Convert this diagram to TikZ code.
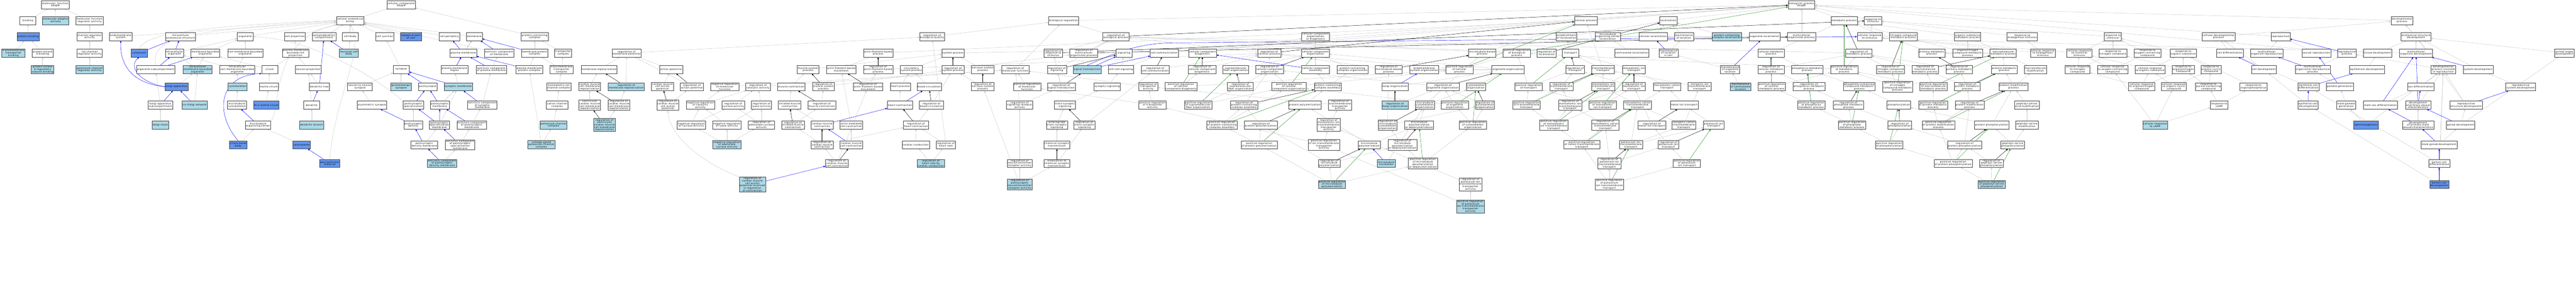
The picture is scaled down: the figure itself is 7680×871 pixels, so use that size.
\documentclass[tikz,border=0pt]{standalone}
\usepackage{fontspec}
\usetikzlibrary{arrows.meta}
\newfontfamily\gvfont[LetterSpace=10]{DejaVu Sans}
\definecolor{gvlb}{HTML}{ADD8E6}
\definecolor{gvcb}{HTML}{6495ED}
\definecolor{gvgrey}{HTML}{C8C8C8}
\definecolor{gvgreen}{HTML}{228B22}
\pgfdeclarelayer{back}
\pgfdeclarelayer{bg}
\pgfsetlayers{back,bg,main}
\tikzset{
  box/.style={draw=black!75, line width=0.8pt, rectangle, align=center, inner xsep=2pt, inner ysep=1.5pt,
    minimum height=24pt, minimum width=48pt, font={\gvfont\fontsize{7}{7.2}\selectfont}},
  n/.style={box, fill=white},
  lb/.style={box, fill=gvlb},
  cb/.style={box, fill=gvcb},
  edge/.style={line width=0.7pt, -{Triangle[length=5.5pt,width=4.5pt]}},
  eg/.style={edge, draw=gvgrey},
  eb/.style={edge, draw=blue},
  ek/.style={edge, draw=black},
  en/.style={edge, draw=gvgreen}
}
\begin{document}
\begin{tikzpicture}[x=1pt,y=-1pt]
\useasboundingbox (0,0) rectangle (7680,871);
\begin{pgfonlayer}{back}
\fill[white] (0,0) rectangle (7680,871);
\end{pgfonlayer}
% ---------------- molecular function
\node[n] (mf) at (165,14) {molecular\_function\\Akap9};
\node[n] (binding) at (83,61.5) {binding};
\node[lb] (adaptor) at (166,61.5) {molecular adaptor\\activity};
\node[n] (mfreg) at (267,61.5) {molecular function\\regulator activity};
\node[cb] (pbind) at (84,109.5) {protein binding};
\node[n] (chreg) at (267,109.5) {channel regulator\\activity};
\node[lb] (tmtb) at (40,158.5) {transmembrane\\transporter\\binding};
\node[n] (pkab) at (127,158.5) {protein kinase\\A binding};
\node[n] (ionchreg) at (267,158.5) {ion channel\\regulator activity};
\node[lb] (pkars) at (127,207.5) {protein kinase\\A regulatory\\subunit binding};
\node[lb] (potchreg) at (267,207.5) {potassium channel\\regulator activity};
% ---------------- cellular component
\node[n] (cc) at (1196,14) {cellular\_component\\Akap9};
\node[n] (cae) at (1044,61.5) {cellular anatomical\\entity};
\node[n] (endomem) at (360,109.5) {endomembrane\\system};
\node[n] (ias) at (538,109.5) {intracellular\\anatomical structure};
\node[n] (organelle) at (731,109.5) {organelle};
\node[n] (cellproj) at (879,109.5) {cell projection};
\node[n] (somato) at (966,109.5) {somatodendritic\\compartment};
\node[n] (cellbody) at (1044,109.5) {cell body};
\node[n] (celljunc) at (1147,109.5) {cell junction};
\node[cb] (subapical) at (1225,109.5) {subapical part\\of cell};
\node[n] (cellper) at (1340,109.5) {cell periphery};
\node[n] (membrane) at (1414,109.5) {membrane};
\node[n] (pcc) at (1594,109.5) {protein-containing\\complex};
\node[cb] (cytoplasm) at (415,158.5) {cytoplasm};
\node[n] (intorg) at (520,158.5) {intracellular\\organelle};
\node[n] (mbo) at (612,158.5) {membrane-bounded\\organelle};
\node[n] (nmbo) at (731,158.5) {non-membrane-bounded\\organelle};
\node[n] (pmbcp) at (881,158.5) {plasma membrane\\bounded cell\\projection};
\node[lb] (neuronalcb) at (1040,158.5) {neuronal cell\\body};
\node[n] (pm) at (1381,158.5) {plasma membrane};
\node[n] (extmem) at (1488,158.5) {extrinsic component\\of membrane};
\node[n] (mpc) at (1594,158.5) {membrane protein\\complex};
\node[n] (transpcomp) at (1679,158.5) {transporter\\complex};
\node[n] (orgsub) at (464,207.5) {organelle subcompartment};
\node[lb] (imbo) at (589,207.5) {intracellular\\membrane-bounded\\organelle};
\node[n] (inmbo) at (707,207.5) {intracellular\\non-membrane-bounded\\organelle};
\node[n] (cilium) at (804,207.5) {cilium};
\node[n] (neuronproj) at (919,207.5) {neuron projection};
\node[n] (synapse) at (1196,207.5) {synapse};
\node[n] (pmregion) at (1355,207.5) {plasma membrane\\region};
\node[n] (extpm) at (1465,207.5) {extrinsic component\\of plasma membrane};
\node[n] (pmpc) at (1578,207.5) {plasma membrane\\protein complex};
\node[n] (tmtc) at (1674,207.5) {transmembrane\\transporter\\complex};
\node[cb] (golgi) at (526,259) {Golgi apparatus};
\node[lb] (cytoskeleton) at (708,259) {cytoskeleton};
\node[n] (motilecilium) at (801,259) {motile cilium};
\node[n] (dendtree) at (952,259) {dendritic tree};
\node[n] (nnsyn) at (1073,259) {neuron to neuron\\synapse};
\node[lb] (glutsyn) at (1196,259) {glutamatergic\\synapse};
\node[n] (postsynapse) at (1275,259) {postsynapse};
\node[lb] (synmem) at (1366,259) {synaptic membrane};
\node[n] (monoionch) at (1666,259) {monoatomic ion\\channel complex};
\node[n] (golgisub) at (478,314) {Golgi apparatus\\subcompartment};
\node[lb] (cisgolgi) at (580,314) {cis-Golgi network};
\node[n] (mtcyto) at (706,314) {microtubule\\cytoskeleton};
\node[cb] (ninetwo) at (794,314) {9+2 motile cilium};
\node[n] (dendrite) at (929,314) {dendrite};
\node[n] (asymsyn) at (1109,314) {asymmetric synapse};
\node[n] (pss) at (1232,314) {postsynaptic\\specialization};
\node[n] (postsynmem) at (1311,314) {postsynaptic\\membrane};
\node[n] (extsynmem) at (1438,314) {extrinsic component\\of synaptic\\membrane};
\node[n] (cationch) at (1661,314) {cation channel\\complex};
\node[lb] (golgistack) at (478,373.5) {Golgi stack};
\node[n] (mtoc) at (769,373.5) {microtubule\\organizing center};
\node[lb] (dendbranch) at (929,373.5) {dendritic branch};
\node[n] (psd) at (1232,373.5) {postsynaptic\\density};
\node[n] (pssm) at (1310,373.5) {postsynaptic\\specialization\\membrane};
\node[n] (extpostsynmem) at (1406,373.5) {extrinsic component\\of postsynaptic\\membrane};
\node[lb] (potchcomp) at (1650,373.5) {potassium channel\\complex};
\node[cb] (ciliarybb) at (710,432.5) {ciliary basal\\body};
\node[cb] (centrosome) at (899,432.5) {centrosome};
\node[n] (psdm) at (1265,432.5) {postsynaptic\\density membrane};
\node[n] (extpssm) at (1372,432.5) {extrinsic component\\of postsynaptic\\specialization\\membrane};
\node[lb] (vgpcc) at (1614,432.5) {voltage-gated\\potassium channel\\complex};
\node[cb] (pericentriolar) at (983,488) {pericentriolar\\material};
\node[lb] (extpsdm) at (1318,488) {extrinsic component\\of postsynaptic\\density membrane};
% ---------------- biological process: membrane / muscle
\node[n] (regmempot) at (1868,158.5) {regulation of\\membrane potential};
\node[n] (memrepol) at (1786,207.5) {membrane repolarization};
\node[n] (cmcmr) at (1758,259) {cardiac muscle\\cell membrane\\repolarization};
\node[lb] (regmemrepol) at (1867,259) {regulation of\\membrane repolarization};
\node[n] (vcmcmr) at (1758,314) {ventricular\\cardiac muscle\\cell membrane\\repolarization};
\node[n] (regcmcmr) at (1845,314) {regulation of\\cardiac muscle\\cell membrane\\repolarization};
\node[lb] (regvcmcmr) at (1802,373.5) {regulation of\\ventricular\\cardiac muscle\\cell membrane\\repolarization};
\node[n] (actpot) at (2001,207.5) {action potential};
\node[n] (muscsys) at (2409,207.5) {muscle system\\process};
\node[n] (aflmove) at (2508,207.5) {actin filament-based\\movement};
\node[n] (cmcap) at (1975,259) {cardiac muscle\\cell action\\potential};
\node[n] (regactpot) at (2063,259) {regulation of\\action potential};
\node[n] (negregmf) at (2161,259) {negative regulation\\of molecular\\function};
\node[n] (regcat) at (2260,259) {regulation of\\catalytic activity};
\node[n] (muscontr) at (2359,259) {muscle contraction};
\node[n] (regmuscsys) at (2455,259) {regulation of\\muscle system\\process};
\node[n] (regaflmove) at (2588,259) {regulation of\\actin filament-based\\movement};
\node[n] (regcmcap) at (1991,314) {regulation of\\cardiac muscle\\cell action\\potential};
\node[n] (negregcat) at (2088,314) {negative regulation\\of catalytic\\activity};
\node[n] (regcyclase) at (2186,314) {regulation of\\cyclase activity};
\node[n] (reglyase) at (2270,314) {regulation of\\lyase activity};
\node[n] (stmusc) at (2354,314) {striated muscle\\contraction};
\node[n] (regmusccontr) at (2450,314) {regulation of\\muscle contraction};
\node[n] (negregcyclase) at (2061,373.5) {negative regulation\\of cyclase activity};
\node[n] (negreglyase) at (2167,373.5) {negative regulation\\of lyase activity};
\node[n] (regadcyc) at (2270,373.5) {regulation of\\adenylate cyclase\\activity};
\node[n] (regstmusc) at (2364,373.5) {regulation of\\striated muscle\\contraction};
\node[n] (cardmusc) at (2451,373.5) {cardiac muscle\\contraction};
\node[n] (actinmcc) at (2538,373.5) {actin-mediated\\cell contraction};
\node[lb] (negregadcyc) at (2167,432.5) {negative regulation\\of adenylate\\cyclase activity};
\node[n] (regcardmusc) at (2451,432.5) {regulation of\\cardiac muscle\\contraction};
\node[n] (cmcc) at (2538,432.5) {cardiac muscle\\cell contraction};
\node[n] (regcmcc) at (2495,488) {regulation of\\cardiac muscle\\cell contraction};
\node[lb] (regcmapcontr) at (2243,551) {regulation of\\cardiac muscle\\cell action\\potential involved\\in regulation\\of contraction};
% ---------------- system / signalling
\node[n] (biolreg) at (3171,61.5) {biological regulation};
\node[n] (regbq) at (2779,109.5) {regulation of\\biological quality};
\node[n] (afproc) at (2618,158.5) {actin filament-based\\process};
\node[n] (sysproc) at (2841,158.5) {system process};
\node[n] (regresp) at (3140,158.5) {regulation of\\response to\\stimulus};
\node[n] (regmop) at (3231,158.5) {regulation of\\multicellular\\organismal process};
\node[n] (regafproc) at (2618,207.5) {regulation of\\actin filament-based\\process};
\node[n] (circsys) at (2717,207.5) {circulatory\\system process};
\node[n] (regsysproc) at (2841,207.5) {regulation of\\system process};
\node[n] (nsp) at (2930,207.5) {nervous system\\process};
\node[n] (regmf) at (3027,207.5) {regulation of\\molecular function};
\node[n] (regsig) at (3151,207.5) {regulation of\\signaling};
\node[lb] (sigtrans) at (3241,207.5) {signal transduction};
\node[n] (heartproc) at (2684,259) {heart process};
\node[n] (bloodcirc) at (2770,259) {blood circulation};
\node[n] (regnsp) at (2930,259) {regulation of\\nervous system\\process};
\node[n] (posregmf) at (3062,259) {positive regulation\\of molecular\\function};
\node[n] (regsigtrans) at (3164,259) {regulation of\\signal transduction};
\node[n] (heartcontr) at (2683,314) {heart contraction};
\node[n] (regbloodcirc) at (2777,314) {regulation of\\blood circulation};
\node[n] (regsigrec) at (3040,314) {regulation of\\signaling receptor\\activity};
\node[n] (transsyn) at (3175,314) {trans-synaptic\\signaling};
\node[n] (regheartcontr) at (2731,373.5) {regulation of\\heart contraction};
\node[n] (antero) at (3151,373.5) {anterograde\\trans-synaptic\\signaling};
\node[n] (regtranssyn) at (3233,373.5) {regulation of\\trans-synaptic\\signaling};
\node[n] (cardcond) at (2730,432.5) {cardiac conduction};
\node[n] (regheartrate) at (2820,432.5) {regulation of\\heart rate};
\node[n] (chemsyn) at (3151,432.5) {chemical synaptic\\transmission};
\node[lb] (regHRcc) at (2775,488) {regulation of\\heart rate by\\cardiac conduction};
\node[n] (regntr) at (3040,488) {regulation of\\neurotransmitter\\receptor activity};
\node[n] (modchem) at (3151,488) {modulation of\\chemical synaptic\\transmission};
\node[lb] (regpsntr) at (3040,551) {regulation of\\postsynaptic\\neurotransmitter\\receptor activity};
% ---------------- regulation of biological process block
\node[n] (regbp) at (3327,109.5) {regulation of\\biological process};
\node[n] (signaling) at (3351,158.5) {signaling};
\node[n] (cellcomm) at (3471,158.5) {cell communication};
\node[n] (ccbiogen) at (3585,158.5) {cellular component\\biogenesis};
\node[n] (regcellproc) at (3784,158.5) {regulation of\\cellular process};
\node[n] (cellcellsig) at (3342,207.5) {cell-cell signaling};
\node[n] (regcellcomm) at (3444,207.5) {regulation of\\cell communication};
\node[n] (regccbiogen) at (3584,207.5) {regulation of\\cellular component\\biogenesis};
\node[n] (smfo) at (3684,207.5) {supramolecular\\fiber organization};
\node[n] (regccorg) at (3785,207.5) {regulation of\\cellular component\\organization};
\node[n] (synsig) at (3301,259) {synaptic signaling};
\node[n] (regtransact) at (3423,259) {regulation of\\transporter\\activity};
\node[n] (posregccbiogen) at (3521,259) {positive regulation\\of cellular\\component biogenesis};
\node[n] (regsmfo) at (3698,259) {regulation of\\supramolecular\\fiber organization};
\node[n] (posregccorg) at (3843,259) {positive regulation\\of cellular\\component organization};
\node[n] (posregtransact) at (3436,314) {positive regulation\\of transporter\\activity};
\node[n] (posregsmfo) at (3572,314) {positive regulation\\of supramolecular\\fiber organization};
\node[n] (regpcca) at (3709,314) {regulation of\\protein-containing\\complex assembly};
\node[n] (protpol) at (3890,314) {protein polymerization};
\node[n] (posregpcca) at (3643,373.5) {positive regulation\\of protein-containing\\complex assembly};
\node[n] (regprotpol) at (3759,373.5) {regulation of\\protein polymerization};
\node[n] (posregprotpol) at (3754,432.5) {positive regulation\\of protein polymerization};
% ---------------- cellular component organization
\node[n] (ccob) at (3922,109.5) {cellular component\\organization\\or biogenesis};
\node[n] (ccorg) at (3922,158.5) {cellular component\\organization};
\node[n] (mtbp) at (4419,158.5) {microtubule-based\\process};
\node[n] (posregbp) at (4522,158.5) {positive regulation\\of biological\\process};
\node[n] (ccassembly) at (3922,207.5) {cellular component\\assembly};
\node[n] (pcco) at (4032,207.5) {protein-containing\\complex organization};
\node[n] (regmtbp) at (4140,207.5) {regulation of\\microtubule-based\\process};
\node[n] (endosysorg) at (4246,207.5) {endomembrane\\system organization};
\node[n] (posregcellproc) at (4351,207.5) {positive regulation\\of cellular\\process};
\node[n] (orgorg) at (4496,207.5) {organelle organization};
\node[n] (pcca) at (3958,259) {protein-containing\\complex assembly};
\node[n] (golgiorg) at (4159,259) {Golgi organization};
\node[n] (regorgorg) at (4302,259) {regulation of\\organelle organization};
\node[n] (cytoorg) at (4400,259) {cytoskeleton\\organization};
\node[n] (regtmtact) at (3995,314) {regulation of\\transmembrane\\transporter\\activity};
\node[lb] (reggolgiorg) at (4159,314) {regulation of\\Golgi organization};
\node[n] (mtcytoorg) at (4248,314) {microtubule\\cytoskeleton\\organization};
\node[n] (posregorgorg) at (4337,314) {positive regulation\\of organelle\\organization};
\node[n] (regcytoorg) at (4427,314) {regulation of\\cytoskeleton\\organization};
\node[n] (regmonoiontmact) at (3961,373.5) {regulation of\\monoatomic ion\\transmembrane\\transporter\\activity};
\node[n] (regmtcytoorg) at (4137,373.5) {regulation of\\microtubule\\cytoskeleton\\organization};
\node[n] (mtpd) at (4231,373.5) {microtubule\\polymerization\\or depolymerization};
\node[n] (posregcytoorg) at (4391,373.5) {positive regulation\\of cytoskeleton\\organization};
\node[n] (posregiontmact) at (3947,432.5) {positive regulation\\of ion transmembrane\\transporter\\activity};
\node[n] (mtpol) at (4082,432.5) {microtubule\\polymerization};
\node[n] (regmtpd) at (4181,432.5) {regulation of\\microtubule\\polymerization\\or depolymerization};
\node[n] (regmtpol) at (3963,488) {regulation of\\microtubule\\polymerization};
\node[lb] (mtnuc) at (4133,488) {microtubule\\nucleation};
\node[n] (posregmtpd) at (4242,488) {positive regulation\\of microtubule\\polymerization\\or depolymerization};
\node[n] (regKtmact) at (4384,551) {regulation of\\potassium ion\\transmembrane\\transporter\\activity};
\node[lb] (posregmtpol) at (3971,551) {positive regulation\\of microtubule\\polymerization};
\node[lb] (posregKtmact) at (4384,617) {positive regulation\\of potassium\\ion transmembrane\\transporter\\activity};
% ---------------- localization / transport
\node[n] (cellproc) at (4728,61.5) {cellular process};
\node[n] (localization) at (4974,61.5) {localization};
\node[n] (estloc) at (4670,109.5) {establishment\\of localization};
\node[n] (mtocloc) at (4793,109.5) {microtubule\\organizing center\\localization};
\node[n] (cellloc) at (4928,109.5) {cellular localization};
\node[n] (maintloc) at (5020,109.5) {maintenance\\of location};
\node[lb] (pccloc) at (5148,109.5) {protein-containing\\complex localization};
\node[n] (regloc) at (4611,158.5) {regulation of\\localization};
\node[n] (transport) at (4682,158.5) {transport};
\node[n] (centloc) at (4865,158.5) {centrosome localization};
\node[n] (maintloccell) at (4974,158.5) {maintenance\\of location\\in cell};
\node[n] (regtransport) at (4696,207.5) {regulation of\\transport};
\node[n] (tmtransport) at (4779,207.5) {transmembrane\\transport};
\node[n] (monoiontrans) at (4871,207.5) {monoatomic ion\\transport};
\node[n] (posregtransport) at (4557,259) {positive regulation\\of transport};
\node[n] (regtmtrans) at (4655,259) {regulation of\\transmembrane\\transport};
\node[n] (monoiontmtrans) at (4780,259) {monoatomic ion\\transmembrane\\transport};
\node[n] (regmonoiontrans) at (4871,259) {regulation of\\monoatomic ion\\transport};
\node[n] (monocattrans) at (4970,259) {monoatomic cation\\transport};
\node[n] (inoriontm) at (5067,259) {inorganic ion\\transmembrane\\transport};
\node[n] (posregtmtrans) at (4551,314) {positive regulation\\of transmembrane\\transport};
\node[n] (regmonoiontm) at (4681,314) {regulation of\\monoatomic ion\\transmembrane\\transport};
\node[n] (posregmonoiontrans) at (4778,314) {positive regulation\\of monoatomic\\ion transport};
\node[n] (monocattm) at (4882,314) {monoatomic cation\\transmembrane\\transport};
\node[n] (metaliontrans) at (5021,314) {metal ion transport};
\node[n] (posregmonoiontm) at (4632,373.5) {positive regulation\\of monoatomic\\ion transmembrane\\transport};
\node[n] (regmonocattm) at (4786,373.5) {regulation of\\monoatomic cation\\transmembrane\\transport};
\node[n] (regmetaliontrans) at (4925,373.5) {regulation of\\metal ion transport};
\node[n] (inorcattm) at (5020,373.5) {inorganic cation\\transmembrane\\transport};
\node[n] (Ktrans) at (5109,373.5) {potassium ion\\transport};
\node[n] (posregcattm) at (4716,432.5) {positive regulation\\of cation transmembrane\\transport};
\node[n] (Ktm) at (4862,432.5) {potassium ion\\transmembrane\\transport};
\node[n] (regKtrans) at (4974,432.5) {regulation of\\potassium ion\\transport};
\node[n] (regKtm) at (4798,488) {regulation of\\potassium ion\\transmembrane\\transport};
\node[n] (posregKtrans) at (5029,488) {positive regulation\\of potassium\\ion transport};
\node[n] (posregKtm) at (4798,551) {positive regulation\\of potassium\\ion transmembrane\\transport};
% ---------------- metabolism
\node[n] (bp) at (5371,14) {biological\_process\\Akap9};
\node[n] (metproc) at (5498,61.5) {metabolic process};
\node[n] (respstim) at (5584,61.5) {response to\\stimulus};
\node[n] (orgloc) at (5261,109.5) {organelle localization};
\node[n] (mop) at (5371,109.5) {multicellular\\organismal process};
\node[n] (cellrespstim) at (5574,109.5) {cellular response\\to stimulus};
\node[n] (ncmp) at (5674,109.5) {nitrogen compound\\metabolic process};
\node[n] (cellmetproc) at (5280,158.5) {cellular metabolic\\process};
\node[n] (regmetproc) at (5542,158.5) {regulation of\\metabolic process};
\node[n] (primmet) at (5759,158.5) {primary metabolic\\process};
\node[n] (maintorgloc) at (5158,207.5) {maintenance\\of organelle\\location};
\node[n] (regcellmet) at (5280,207.5) {regulation of\\cellular metabolic\\process};
\node[n] (phosmet) at (5388,207.5) {phosphorus metabolic\\process};
\node[n] (posregmet) at (5498,207.5) {positive regulation\\of metabolic\\process};
\node[n] (regncmp) at (5636,207.5) {regulation of\\nitrogen compound\\metabolic process};
\node[n] (regmacromet) at (5739,207.5) {regulation of\\macromolecule\\metabolic process};
\node[lb] (maintcentloc) at (5189,259) {maintenance\\of centrosome\\location};
\node[n] (posregcellmet) at (5282,259) {positive regulation\\of cellular\\metabolic process};
\node[n] (regphosmet) at (5393,259) {regulation of\\phosphorus metabolic\\process};
\node[n] (phoscmp) at (5543,259) {phosphate-containing\\compound metabolic\\process};
\node[n] (posregncmp) at (5657,259) {positive regulation\\of nitrogen\\compound metabolic\\process};
\node[n] (posregmacromet) at (5764,259) {positive regulation\\of macromolecule\\metabolic process};
\node[n] (posregphosmet) at (5400,314) {positive regulation\\of phosphorus\\metabolic process};
\node[n] (regphosphatemet) at (5511,314) {regulation of\\phosphate metabolic\\process};
\node[n] (phosphorylation) at (5661,314) {phosphorylation};
\node[n] (posregprotmet) at (5763,314) {positive regulation\\of protein metabolic\\process};
\node[n] (posregphosphatemet) at (5521,373.5) {positive regulation\\of phosphate\\metabolic process};
\node[n] (regphosphorylation) at (5664,373.5) {regulation of\\phosphorylation};
\node[n] (posregprotmod) at (5779,373.5) {positive regulation\\of protein modification\\process};
\node[n] (posregphosphorylation) at (5632,432.5) {positive regulation\\of phosphorylation};
\node[n] (osmp) at (5866,109.5) {organic substance\\metabolic process};
\node[n] (respendo) at (6029,109.5) {response to\\endogenous stimulus};
\node[n] (respchem) at (6299,109.5) {response to\\chemical};
\node[n] (orgnitmp) at (5866,158.5) {organonitrogen\\compound metabolic\\process};
\node[n] (macromet) at (5972,158.5) {macromolecule\\metabolic process};
\node[n] (cellrespendo) at (6090,158.5) {cellular response\\to endogenous\\stimulus};
\node[n] (cellrespchem) at (6199,158.5) {cellular response\\to chemical\\stimulus};
\node[n] (respnit) at (6299,158.5) {response to\\nitrogen compound};
\node[n] (respoxy) at (6402,158.5) {response to\\oxygen-containing\\compound};
\node[n] (regprimmet) at (5841,207.5) {regulation of\\primary metabolic\\process};
\node[n] (protmet) at (5975,207.5) {protein metabolic\\process};
\node[n] (macromod) at (6068,207.5) {macromolecule\\modification};
\node[n] (cellrespnit) at (6194,207.5) {cellular response\\to nitrogen\\compound};
\node[n] (cellrespoxy) at (6298,207.5) {cellular response\\to oxygen-containing\\compound};
\node[n] (cellresporg) at (6410,207.5) {cellular response\\to organic substance};
\node[n] (regprotmet) at (5865,259) {regulation of\\protein metabolic\\process};
\node[n] (protmod) at (6003,259) {protein modification\\process};
\node[n] (cellresporgnit) at (6385,259) {cellular response\\to organonitrogen\\compound};
\node[n] (regprotmod) at (5872,314) {regulation of\\protein modification\\process};
\node[n] (peptaa) at (6043,314) {peptidyl-amino\\acid modification};
\node[n] (protphos) at (5938,373.5) {protein phosphorylation};
\node[n] (peptser) at (6043,373.5) {peptidyl-serine\\modification};
\node[lb] (cellrespcAMP) at (6425,373.5) {cellular response\\to cAMP};
\node[n] (regprotphos) at (5857,432.5) {regulation of\\protein phosphorylation};
\node[n] (peptserphos) at (6000,432.5) {peptidyl-serine\\phosphorylation};
\node[n] (posregprotphos) at (5823,488) {positive regulation\\of protein phosphorylation};
\node[n] (regpeptserphos) at (5937,488) {regulation of\\peptidyl-serine\\phosphorylation};
\node[lb] (posregpeptserphos) at (5938,551) {positive regulation\\of peptidyl-serine\\phosphorylation};
% ---------------- response / development
\node[n] (celldevproc) at (6614,109.5) {cellular developmental\\process};
\node[n] (reproduction) at (6799,109.5) {reproduction};
\node[n] (resporg) at (6509,158.5) {response to\\organic substance};
\node[n] (celldiff) at (6648,158.5) {cell differentiation};
\node[n] (mcorgrepro) at (6758,158.5) {multicellular\\organism reproduction};
\node[n] (sexrepro) at (6906,158.5) {sexual reproduction};
\node[n] (reproproc) at (6997,158.5) {reproductive\\process};
\node[n] (resporgnit) at (6509,207.5) {response to\\organonitrogen\\compound};
\node[n] (resporgcyc) at (6592,207.5) {response to\\organic cyclic\\compound};
\node[n] (celldev) at (6749,207.5) {cell development};
\node[n] (mcorp) at (6895,207.5) {multicellular\\organismal reproductive\\process};
\node[n] (epidev) at (7057,207.5) {epithelium development};
\node[n] (cellresporgcyc) at (6481,259) {cellular response\\to organic cyclic\\compound};
\node[n] (resppurine) at (6584,259) {response to\\purine-containing\\compound};
\node[n] (respop) at (6718,259) {response to\\organophosphorus};
\node[n] (epicelldiff) at (6882,259) {epithelial cell\\differentiation};
\node[n] (gametegen) at (6976,259) {gamete generation};
\node[n] (respcAMP) at (6616,314) {response to\\cAMP};
\node[n] (epicelldev) at (6881,314) {epithelial cell\\development};
\node[n] (malegametegen) at (6995,314) {male gamete\\generation};
\node[cb] (spermatogenesis) at (7054,373.5) {spermatogenesis};
\node[n] (devproc) at (7161,61.5) {developmental\\process};
\node[n] (asd) at (7203,109.5) {anatomical structure\\development};
\node[n] (tissuedev) at (7088,158.5) {tissue development};
\node[n] (mcod) at (7203,158.5) {multicellular\\organism development};
\node[n] (animalorgan) at (7645,158.5) {animal organ\\development};
\node[n] (dpir) at (7284,207.5) {developmental\\process involved\\in reproduction};
\node[n] (sysdev) at (7388,207.5) {system development};
\node[n] (sexdiff) at (7217,259) {sex differentiation};
\node[n] (reprosysdev) at (7515,259) {reproductive\\system development};
\node[n] (malesexdiff) at (7097,314) {male sex differentiation};
\node[n] (dpsc) at (7209,314) {development\\of primary sexual\\characteristics};
\node[n] (reprostructdev) at (7352,314) {reproductive\\structure development};
\node[n] (dpmsc) at (7209,373.5) {development\\of primary male\\sexual characteristics};
\node[n] (gonaddev) at (7336,373.5) {gonad development};
\node[n] (malegonaddev) at (7272,432.5) {male gonad development};
\node[n] (sertolidiff) at (7272,488) {Sertoli cell\\differentiation};
\node[cb] (sertolidev) at (7272,551) {Sertoli cell\\development};
% ================= edges
\begin{pgfonlayer}{bg}
% curved connectors
\draw[eb] (golgi.west) .. controls (400,250) and (357,200) .. (endomem.south);
\draw[eb] (golgi.west) .. controls (420,248) and (380,200) .. (cytoplasm.south);
\draw[eb] (ciliarybb.north) .. controls (640,340) and (650,225) .. (cilium.south west);
\draw[eb] (sigtrans.north) .. controls (3300,170) and (3380,128) .. (3500,128) -- (cellrespstim.west);
\draw[eg] (regcmapcontr.north west) .. controls (2080,480) and (1995,400) .. (regcmcap.south);
\draw[eg] (pss.north west) .. controls (1130,240) and (950,120) .. (organelle.east);
\draw[eg] (mtoc.north east) .. controls (840,330) and (800,120) .. (cae.south west);
\draw[eg] (pericentriolar.north) .. controls (1000,280) and (1090,150) .. (cae.south);
\draw[eg] (orgsub.north) .. controls (450,120) and (520,92) .. (cae.west);
\draw[eg] (cytoplasm.north) .. controls (430,110) and (520,80) .. (cae.west);
\foreach \a/\b in {binding/mf, adaptor/mf, mfreg/mf, pbind/binding, tmtb/pbind, pkab/pbind, pkars/pkab, chreg/mfreg, ionchreg/chreg, potchreg/ionchreg,
 cae/cc, pcc/cc, endomem/cae, ias/cae, intorg/organelle, mbo/organelle, imbo/intorg, imbo/mbo, golgi/imbo, golgisub/orgsub, cisgolgi/imbo, golgistack/golgisub,
 organelle/cae, cellproj/cae, somato/cae, cellbody/cae, celljunc/cae, subapical/cae, nmbo/organelle, pmbcp/cellproj, neuronalcb/cellbody, inmbo/nmbo, inmbo/intorg, cilium/pmbcp, cilium/mbo,
 neuronproj/pmbcp, synapse/celljunc, cytoskeleton/inmbo, motilecilium/cilium, dendtree/neuronproj, nnsyn/synapse, glutsyn/synapse, mtcyto/cytoskeleton, ninetwo/motilecilium, dendrite/neuronproj,
 asymsyn/nnsyn, dendbranch/dendrite, psd/pss, ciliarybb/mtoc, centrosome/mtoc, psdm/pssm, extpsdm/extpssm,
 cellper/cae, membrane/cae, pm/membrane, extmem/cae, mpc/pcc, transpcomp/pcc, pmregion/membrane, extpm/extmem, pmpc/mpc, tmtc/mpc, tmtc/transpcomp, synmem/pmregion, monoionch/tmtc,
 postsynmem/synmem, extsynmem/extpm, cationch/monoionch, pssm/synmem, extpostsynmem/extsynmem, potchcomp/cationch, extpssm/extpostsynmem, vgpcc/potchcomp, vgpcc/pmpc}
  \draw[eg] (\a) -- (\b);
\foreach \a/\b in {regmempot/regbq, memrepol/regmempot, cmcmr/memrepol, regmemrepol/regmempot, vcmcmr/cmcmr, regcmcmr/regmemrepol, regvcmcmr/regcmcmr,
 actpot/regmempot, cmcap/actpot, regactpot/regmempot, regcmcap/regactpot, negregmf/regmf, regcat/regmf, negregcat/negregmf, negregcat/regcat, regcyclase/regcat, reglyase/regcat,
 negregcyclase/negregcat, negregcyclase/regcyclase, negreglyase/negregcat, negreglyase/reglyase, regadcyc/regcyclase, regadcyc/reglyase, negregadcyc/negregcyclase, negregadcyc/negreglyase, negregadcyc/regadcyc,
 muscsys/sysproc, aflmove/afproc, muscontr/muscsys, regmuscsys/regsysproc, stmusc/muscontr, regmusccontr/regmuscsys, regstmusc/regmusccontr, cardmusc/stmusc, actinmcc/aflmove,
 regcardmusc/regstmusc, regcardmusc/regheartcontr, cmcc/actinmcc, regcmcc/regcardmusc, regcmcc/regaflmove, regaflmove/regafproc, afproc/cellproc, regafproc/regcellproc,
 circsys/sysproc, heartproc/circsys, bloodcirc/circsys, heartcontr/heartproc, regbloodcirc/regsysproc, regheartcontr/regbloodcirc, cardcond/regheartcontr, regheartrate/regheartcontr, regheartrate/regbq,
 regHRcc/cardcond, regHRcc/regheartrate, sysproc/mop, regsysproc/regmop, nsp/sysproc, regnsp/regsysproc, regmf/biolreg, posregmf/regmf, regsigrec/regmf, regsigrec/regsigtrans, regntr/regsigrec,
 regpsntr/regntr, regpsntr/modchem, regpsntr/regnsp, regresp/regbp, regsig/regbp, regsigtrans/regsig, regsigtrans/regresp, antero/transsyn, chemsyn/antero, modchem/regtranssyn, transsyn/synsig, regtranssyn/regcellcomm,
 biolreg/bp, regbq/biolreg, regbp/biolreg, regmop/regbp, signaling/bp, cellcellsig/signaling, cellcellsig/cellcomm, synsig/cellcellsig, regcellcomm/regcellproc, cellcomm/cellproc, regtransact/regmf,
 posregtransact/regtransact, posregtransact/posregmf}
  \draw[eg] (\a) -- (\b);
\foreach \a/\b in {ccbiogen/ccob, regccbiogen/regcellproc, posregccbiogen/regccbiogen, posregccbiogen/posregcellproc, smfo/ccorg, regsmfo/regccorg, regccorg/regcellproc, posregccorg/regccorg,
 posregccorg/posregcellproc, posregsmfo/regsmfo, posregsmfo/posregccorg, regpcca/regccorg, posregpcca/regpcca, posregpcca/posregccorg, regprotpol/regpcca, posregprotpol/regprotpol, posregprotpol/posregpcca, regcellproc/regbp,
 ccob/bp, ccorg/ccob, ccassembly/ccorg, pcco/ccorg, regmtbp/regcellproc, mtbp/cellproc, endosysorg/orgorg, golgiorg/orgorg, orgorg/ccorg, regorgorg/regccorg, cytoorg/orgorg, posregcellproc/regcellproc,
 posregcellproc/posregbp, pcca/ccassembly, pcca/pcco, reggolgiorg/regorgorg, mtcytoorg/cytoorg, mtcytoorg/mtbp, posregorgorg/regorgorg, posregorgorg/posregccorg, regcytoorg/regorgorg, regtmtact/regtransact,
 regmonoiontmact/regtmtact, regmtcytoorg/regcytoorg, regmtcytoorg/regmtbp, mtpd/mtcytoorg, posregcytoorg/regcytoorg, posregcytoorg/posregorgorg, posregiontmact/regmonoiontmact, posregiontmact/posregtransact,
 mtpol/mtpd, mtpol/protpol, regmtpd/regmtcytoorg, regmtpol/regmtpd, regmtpol/regprotpol, mtnuc/mtcytoorg, posregmtpd/regmtpd, posregmtpd/posregcytoorg, posregmtpol/regmtpol, posregmtpol/posregmtpd,
 posregmtpol/posregprotpol, regKtmact/regmonoiontmact, posregKtmact/regKtmact, posregKtmact/posregiontmact, protpol/pcca}
  \draw[eg] (\a) -- (\b);
\foreach \a/\b in {cellproc/bp, localization/bp, estloc/localization, mtocloc/orgloc, cellloc/localization, maintloc/localization, pccloc/localization, posregbp/regbp, regloc/regbp, transport/estloc,
 centloc/mtocloc, maintloccell/maintloc, regtransport/regloc, tmtransport/transport, tmtransport/cellproc, monoiontrans/transport, posregtransport/regtransport, posregtransport/posregbp, regtmtrans/regtransport,
 monoiontmtrans/tmtransport, monoiontmtrans/monoiontrans, regmonoiontrans/regtransport, monocattrans/monoiontrans, inoriontm/tmtransport, posregtmtrans/regtmtrans, posregtmtrans/posregtransport,
 regmonoiontm/regtmtrans, regmonoiontm/regmonoiontrans, posregmonoiontrans/regmonoiontrans, posregmonoiontrans/posregtransport, monocattm/monoiontmtrans, monocattm/monocattrans, metaliontrans/monocattrans,
 posregmonoiontm/regmonoiontm, posregmonoiontm/posregtmtrans, posregmonoiontm/posregmonoiontrans, regmonocattm/regmonoiontm, regmetaliontrans/regmonoiontrans, inorcattm/inoriontm, inorcattm/monocattm,
 Ktrans/metaliontrans, posregcattm/posregmonoiontm, posregcattm/regmonocattm, Ktm/monocattm, Ktm/inorcattm, Ktm/Ktrans, regKtrans/regmetaliontrans, regKtm/regmonocattm, regKtm/regKtrans,
 posregKtrans/regKtrans, posregKtm/regKtm, posregKtm/posregcattm, posregKtm/posregKtrans}
  \draw[eg] (\a) -- (\b);
\foreach \a/\b in {metproc/bp, respstim/bp, mop/bp, orgloc/cellloc, cellrespstim/respstim, ncmp/metproc, cellmetproc/metproc, regmetproc/regbp, primmet/metproc, maintorgloc/maintloccell, regcellmet/regmetproc,
 phosmet/cellmetproc, posregmet/regmetproc, posregmet/posregbp, regncmp/regmetproc, regmacromet/regmetproc, maintcentloc/maintorgloc, posregcellmet/regcellmet, posregcellmet/posregmet, regphosmet/regcellmet,
 phoscmp/phosmet, posregncmp/regncmp, posregncmp/posregmet, posregmacromet/regmacromet, posregmacromet/posregmet, posregphosmet/regphosmet, posregphosmet/posregcellmet, regphosphatemet/regphosmet,
 phosphorylation/phoscmp, posregprotmet/regprotmet, posregprotmet/posregmacromet, posregphosphatemet/regphosphatemet, posregphosphatemet/posregphosmet, regphosphorylation/regphosphatemet,
 posregprotmod/regprotmod, posregprotmod/posregprotmet, posregphosphorylation/regphosphorylation, posregphosphorylation/posregphosphatemet,
 osmp/metproc, orgnitmp/osmp, orgnitmp/ncmp, macromet/osmp, macromet/primmet, regprimmet/regmetproc, protmet/macromet, protmet/orgnitmp, macromod/macromet, regprotmet/regprimmet, regprotmet/regmacromet,
 protmod/protmet, protmod/macromod, regprotmod/regprotmet, peptaa/protmod, protphos/protmod, protphos/phosphorylation, peptser/peptaa, regprotphos/regprotmod, regprotphos/regphosphorylation,
 peptserphos/protphos, peptserphos/peptser, posregprotphos/regprotphos, posregprotphos/posregprotmod, posregprotphos/posregphosphorylation, regpeptserphos/regprotphos, posregpeptserphos/regpeptserphos,
 posregpeptserphos/posregprotphos}
  \draw[eg] (\a) -- (\b);
\foreach \a/\b in {respendo/respstim, respchem/respstim, cellrespendo/respendo, cellrespendo/cellrespstim, cellrespchem/respchem, cellrespchem/cellrespstim, respnit/respchem, respoxy/respchem, resporg/respchem,
 cellrespnit/cellrespchem, cellrespnit/respnit, cellrespoxy/cellrespchem, cellrespoxy/respoxy, cellresporg/cellrespchem, cellresporg/resporg, cellresporgnit/cellrespnit, cellresporgnit/cellresporg,
 cellresporgnit/resporgnit, cellrespcAMP/cellrespoxy, cellrespcAMP/cellresporgcyc, cellrespcAMP/respcAMP, resporgnit/resporg, resporgnit/respnit, resporgcyc/resporg, cellresporgcyc/resporgcyc,
 cellresporgcyc/cellresporg, resppurine/resporgnit, resppurine/resporgcyc, respcAMP/resppurine, respcAMP/respop, respop/resporg,
 devproc/bp, celldevproc/devproc, reproduction/bp, asd/devproc, tissuedev/asd, mcod/asd, mcod/mop, animalorgan/asd, celldiff/celldevproc, mcorgrepro/reproduction, sexrepro/reproduction, reproproc/bp,
 dpir/devproc, dpir/reproproc, sysdev/asd, celldev/celldevproc, mcorp/reproproc, epidev/tissuedev, sexdiff/dpir, reprosysdev/sysdev, epicelldiff/celldiff, gametegen/mcorp, malesexdiff/sexdiff, dpsc/dpir,
 reprostructdev/dpir, reprostructdev/asd, epicelldev/celldev, malegametegen/gametegen, spermatogenesis/malegametegen, spermatogenesis/dpir, dpmsc/dpsc, gonaddev/reprostructdev, gonaddev/animalorgan,
 malegonaddev/gonaddev, sertolidiff/epicelldiff, sertolidiff/dpir, sertolidev/epicelldev, sertolidev/dpir}
  \draw[eg] (\a) -- (\b);
\foreach \a/\b in {cytoplasm/ias, intorg/ias, orgsub/intorg, orgsub/mbo, golgisub/golgi, cisgolgi/golgi, neuronalcb/somato, dendtree/somato, postsynapse/synapse, synmem/synapse,
 dendrite/dendtree, pss/postsynapse, mtoc/mtcyto, psd/asymsyn, pssm/pss, pssm/postsynmem, psdm/psd, pericentriolar/centrosome, extpsdm/psdm, pm/cellper, extmem/membrane, mpc/membrane,
 pmregion/pm, extpm/pm, pmpc/pm, postsynmem/postsynapse, extsynmem/synmem, extpostsynmem/postsynmem, extpssm/pssm,
 cardmusc/heartcontr, cmcc/cardmusc, regcmapcontr/regcmcc, heartcontr/bloodcirc, sigtrans/signaling, sigtrans/cellcomm, ccassembly/ccbiogen, golgiorg/endosysorg, mtnuc/mtpol,
 maintloccell/cellloc, maintorgloc/orgloc, reproproc/reproduction, sysdev/mcod, celldev/celldiff, mcorp/mcorgrepro, epicelldiff/epidev, gametegen/sexrepro, malesexdiff/mcod, dpsc/sexdiff, dpsc/mcod,
 reprostructdev/reprosysdev, epicelldev/epicelldiff, dpmsc/malesexdiff, gonaddev/dpsc, malegonaddev/dpmsc, sertolidiff/malegonaddev, sertolidev/sertolidiff}
  \draw[eb] (\a) -- (\b);
\foreach \a/\b in {regmemrepol/memrepol, regcmcmr/cmcmr, regvcmcmr/vcmcmr, regactpot/actpot, regcmcap/cmcap, regmuscsys/muscsys, regmusccontr/muscontr, regstmusc/stmusc, regcardmusc/cardmusc, regcmcc/cmcc,
 regaflmove/aflmove, regafproc/afproc, regbloodcirc/bloodcirc, regheartcontr/heartcontr, regsysproc/sysproc, regnsp/nsp, regresp/respstim, regsig/signaling, regsigtrans/sigtrans, regtranssyn/transsyn,
 modchem/chemsyn, regbp/bp, regmop/mop, regcellcomm/cellcomm, regccbiogen/ccbiogen, regsmfo/smfo, regccorg/ccorg, regpcca/pcca, regprotpol/protpol, regcellproc/cellproc, regmtbp/mtbp, regorgorg/orgorg,
 reggolgiorg/golgiorg, regcytoorg/cytoorg, regmtcytoorg/mtcytoorg, regmtpd/mtpd, regmtpol/mtpol, regloc/localization, regtransport/transport, regtmtrans/tmtransport, regmonoiontrans/monoiontrans,
 regmonoiontm/monoiontmtrans, regmonocattm/monocattm, regmetaliontrans/metaliontrans, regKtrans/Ktrans, regKtm/Ktm, regmetproc/metproc, regcellmet/cellmetproc, regphosmet/phosmet, regncmp/ncmp,
 regmacromet/macromet, regphosphatemet/phoscmp, regphosphorylation/phosphorylation, regprimmet/primmet, regprotmet/protmet, regprotmod/protmod, regprotphos/protphos, regpeptserphos/peptserphos}
  \draw[ek] (\a) -- (\b);
\foreach \a/\b in {posregccbiogen/ccbiogen, posregsmfo/smfo, posregccorg/ccorg, posregpcca/pcca, posregprotpol/protpol, posregcellproc/cellproc, posregorgorg/orgorg, posregcytoorg/cytoorg, posregmtpd/mtpd,
 posregmtpol/mtpol, posregbp/bp, posregtransport/transport, posregtmtrans/tmtransport, posregmonoiontm/monoiontmtrans, posregmonoiontrans/monoiontrans, posregcattm/monocattm, posregKtrans/Ktrans,
 posregKtm/Ktm, posregmet/metproc, posregcellmet/cellmetproc, posregncmp/ncmp, posregmacromet/macromet, posregphosmet/phosmet, posregphosphatemet/phoscmp, posregprotmet/protmet, posregprotmod/protmod,
 posregphosphorylation/phosphorylation, posregprotphos/protphos, posregpeptserphos/peptserphos}
  \draw[en] (\a) -- (\b);
\end{pgfonlayer}
\end{tikzpicture}
\end{document}
